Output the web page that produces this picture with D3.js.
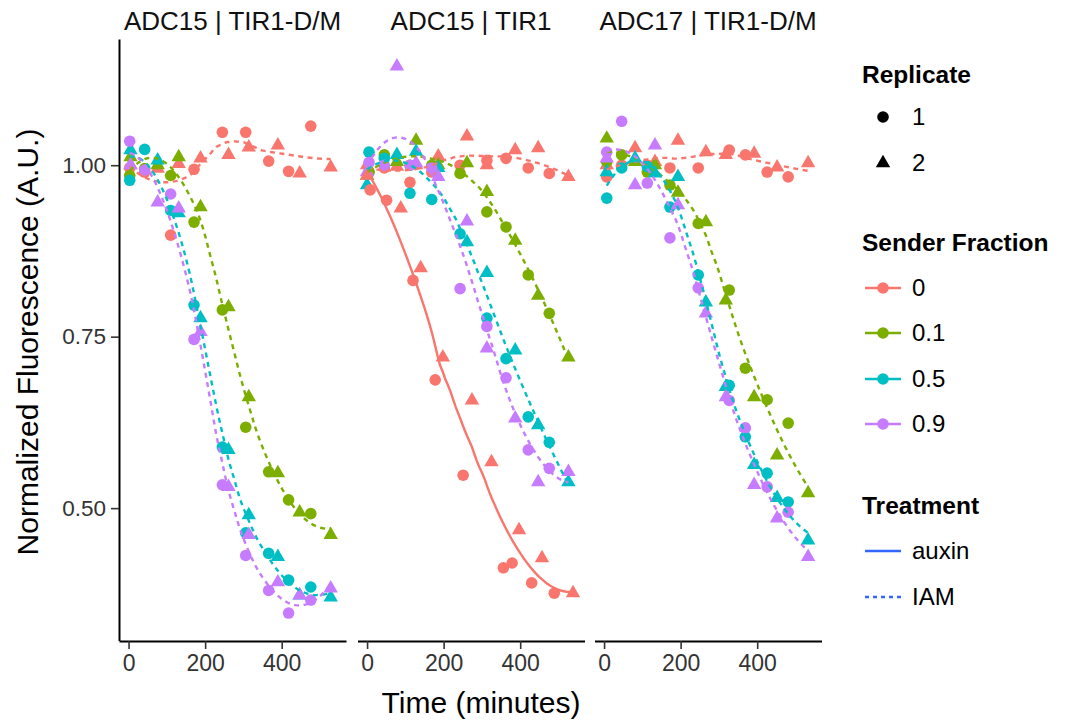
<!DOCTYPE html>
<html><head><meta charset="utf-8">
<script src="https://cdn.jsdelivr.net/npm/d3@7"></script>
<style>body{margin:0;background:#fff}svg{display:block}text{font-family:"Liberation Sans",Arial,Helvetica,sans-serif}</style>
</head><body><svg id="c" width="1069" height="721"></svg>
<script>
// ---------- data ----------
const panelTitles = ["ADC15 | TIR1-D/M", "ADC15 | TIR1", "ADC17 | TIR1-D/M"];
const fractions = ["0", "0.1", "0.5", "0.9"];
const fracColors = ["#F8766D", "#7CAE00", "#00BFC4", "#C77CFF"];
const replicates = ["1", "2"];
const treatments = ["auxin", "IAM"];
const xTicks = [0, 200, 400];
const yTicks = [0.50, 0.75, 1.00];

// time points (minutes) per panel and replicate
const timeP1R1 = [3, 42, 110, 171, 245, 306, 366, 418, 476];
const timeP1R2 = [5, 76, 131, 188, 261, 314, 390, 447, 528];
const timeP2R1 = [5, 45, 112, 169, 243, 313, 363, 421, 476];
const timeP2R2 = [0, 78, 128, 186, 261, 313, 387, 447, 526];
const timeP3R1 = [7, 46, 113, 172, 246, 327, 369, 426, 481];
const timeP3R2 = [7, 81, 133, 193, 266, 318, 392, 452, 533];
const timeAuxR1 = [8, 51, 120, 178, 251, 356, 379, 430, 489];
const timeAuxR2 = [0, 88, 140, 198, 274, 325, 397, 457, 538];

// Panel 1: ADC15 | TIR1-D/M (IAM)
const p1_f0_r1 = [0.996, 0.990, 0.898, 0.994, 1.048, 1.048, 1.006, 0.991, 1.057];
const p1_f0_r2 = [1.000, 0.995, 1.002, 1.010, 1.015, 1.026, 1.029, 0.988, 0.997];
const p1_f1_r1 = [0.985, 0.995, 0.985, 0.917, 0.789, 0.618, 0.553, 0.512, 0.492];
const p1_f1_r2 = [1.012, 1.000, 1.012, 0.939, 0.793, 0.662, 0.551, 0.494, 0.461];
const p1_f5_r1 = [0.978, 1.023, 0.934, 0.796, 0.589, 0.464, 0.434, 0.395, 0.385];
const p1_f5_r2 = [1.022, 1.007, 0.930, 0.777, 0.585, 0.490, 0.429, 0.373, 0.370];
const p1_f9_r1 = [1.035, 0.993, 0.958, 0.746, 0.534, 0.431, 0.380, 0.347, 0.366];
const p1_f9_r2 = [1.000, 0.946, 0.937, 0.757, 0.531, 0.461, 0.392, 0.373, 0.383];

// Panel 2: ADC15 | TIR1 (IAM)
const p2_f0_r1 = [0.990, 0.996, 0.975, 0.990, 1.000, 1.007, 1.010, 0.996, 0.988];
const p2_f0_r2 = [1.000, 0.998, 1.000, 1.013, 1.042, 1.000, 1.022, 1.025, 0.983];
const p2_f1_r1 = [0.990, 1.015, 1.000, 1.000, 0.988, 0.932, 0.910, 0.840, 0.784];
const p2_f1_r2 = [0.985, 1.005, 1.036, 1.000, 1.003, 0.961, 0.890, 0.810, 0.720];
const p2_f5_r1 = [1.019, 1.010, 0.959, 0.950, 0.900, 0.777, 0.718, 0.633, 0.596];
const p2_f5_r2 = [0.971, 1.015, 1.020, 0.996, 0.888, 0.843, 0.730, 0.621, 0.538];
const p2_f9_r1 = [1.004, 1.000, 1.000, 0.996, 0.820, 0.765, 0.690, 0.585, 0.558];
const p2_f9_r2 = [0.990, 1.144, 1.003, 0.983, 0.918, 0.733, 0.631, 0.538, 0.553];
// Panel 2: ADC15 | TIR1 (auxin, sender fraction 0)
const p2aux_f0_r1 = [0.964, 0.949, 0.832, 0.687, 0.548, 0.413, 0.420, 0.391, 0.376];
const p2aux_f0_r2 = [0.985, 0.937, 0.850, 0.720, 0.657, 0.567, 0.468, 0.427, 0.376];

// Panel 3: ADC17 | TIR1-D/M (IAM)
const p3_f0_r1 = [0.983, 1.000, 1.000, 0.996, 0.996, 1.022, 1.015, 0.990, 0.983];
const p3_f0_r2 = [1.000, 1.025, 1.005, 1.036, 1.019, 1.015, 1.017, 0.997, 1.003];
const p3_f1_r1 = [1.005, 1.015, 0.990, 0.971, 0.915, 0.818, 0.704, 0.658, 0.624];
const p3_f1_r2 = [1.039, 1.005, 1.000, 0.960, 0.917, 0.803, 0.662, 0.577, 0.522];
const p3_f5_r1 = [0.952, 0.996, 0.998, 0.939, 0.840, 0.679, 0.604, 0.551, 0.509];
const p3_f5_r2 = [0.990, 1.010, 0.988, 0.983, 0.800, 0.677, 0.563, 0.515, 0.453];
const p3_f9_r1 = [1.019, 1.064, 0.974, 0.894, 0.821, 0.657, 0.617, 0.531, 0.494];
const p3_f9_r2 = [1.010, 0.971, 1.029, 0.942, 0.784, 0.662, 0.534, 0.485, 0.429];

// ---------- assemble groups ----------
const groups = [];
function addGroup(panel, frac, treat, t1, v1, t2, v2) {
  groups.push({panel, frac, treat, pts: [
    ...t1.map((t, i) => ({t, v: v1[i], rep: 0})),
    ...t2.map((t, i) => ({t, v: v2[i], rep: 1}))]});
}
[[p1_f0_r1,p1_f0_r2],[p1_f1_r1,p1_f1_r2],[p1_f5_r1,p1_f5_r2],[p1_f9_r1,p1_f9_r2]]
  .forEach((s, f) => addGroup(0, f, 1, timeP1R1, s[0], timeP1R2, s[1]));
[[p2_f0_r1,p2_f0_r2],[p2_f1_r1,p2_f1_r2],[p2_f5_r1,p2_f5_r2],[p2_f9_r1,p2_f9_r2]]
  .forEach((s, f) => addGroup(1, f, 1, timeP2R1, s[0], timeP2R2, s[1]));
addGroup(1, 0, 0, timeAuxR1, p2aux_f0_r1, timeAuxR2, p2aux_f0_r2);
[[p3_f0_r1,p3_f0_r2],[p3_f1_r1,p3_f1_r2],[p3_f5_r1,p3_f5_r2],[p3_f9_r1,p3_f9_r2]]
  .forEach((s, f) => addGroup(2, f, 1, timeP3R1, s[0], timeP3R2, s[1]));

// loess smoother (degree 2, span 0.75, tricube) as geom_smooth does
function loess(pts, span = 0.75, nOut = 80) {
  const xs = pts.map(p => p.t), ys = pts.map(p => p.v);
  const n = xs.length, q = Math.floor(n * span);
  const xmin = d3.min(xs), xmax = d3.max(xs), out = [];
  for (let k = 0; k < nOut; k++) {
    const x0 = xmin + (xmax - xmin) * k / (nOut - 1);
    const d = xs.map(x => Math.abs(x - x0));
    let h = d.slice().sort((a, b) => a - b)[q - 1] * 1.000001 || 1e-6;
    const A = [[0,0,0],[0,0,0],[0,0,0]], b = [0,0,0];
    for (let i = 0; i < n; i++) {
      const u = d[i] / h; if (u >= 1) continue;
      const w = Math.pow(1 - u*u*u, 3), tt = (xs[i] - x0) / 100, B = [1, tt, tt*tt];
      for (let r = 0; r < 3; r++) { b[r] += w * B[r] * ys[i]; for (let c = 0; c < 3; c++) A[r][c] += w * B[r] * B[c]; }
    }
    const M = A.map((r, i) => [...r, b[i]]);
    for (let c = 0; c < 3; c++) {
      let p = c; for (let r = c+1; r < 3; r++) if (Math.abs(M[r][c]) > Math.abs(M[p][c])) p = r;
      [M[c], M[p]] = [M[p], M[c]];
      for (let r = c+1; r < 3; r++) { const f = M[r][c] / M[c][c]; for (let j = c; j < 4; j++) M[r][j] -= f * M[c][j]; }
    }
    const s = [0,0,0];
    for (let r = 2; r >= 0; r--) { let acc = M[r][3]; for (let j = r+1; j < 3; j++) acc -= M[r][j]*s[j]; s[r] = acc / M[r][r]; }
    out.push([x0, s[0]]);
  }
  return out;
}

// ---------- layout ----------
const svg = d3.select("#c");
const panelX0 = [119, 357.5, 594.5], panelW = 227;
const yBot = 641;
const y = d3.scaleLinear().domain([0.307, 1.184]).range([640.5, 39]);
const xs = panelX0.map(x0 => d3.scaleLinear().domain([-25, 568]).range([x0, x0 + panelW]));
const tickCol = "#333333";

panelX0.forEach((x0, p) => {
  const x = xs[p];
  svg.append("text").attr("x", x0 + panelW/2).attr("y", 30).attr("text-anchor", "middle")
    .attr("font-size", 26).attr("fill", "#111").text(panelTitles[p]);
  const ax = svg.append("g").attr("transform", `translate(0,${yBot})`)
    .call(d3.axisBottom(x).tickValues(xTicks).tickSize(8).tickSizeOuter(0).tickPadding(6));
  ax.select(".domain").attr("stroke", "#000").attr("stroke-width", 2);
  ax.selectAll(".tick line").attr("stroke", "#333").attr("stroke-width", 1.6);
  ax.selectAll(".tick text").attr("font-size", 23).attr("fill", tickCol)
    .attr("font-family", '"Liberation Sans",Arial,sans-serif');
});

const ay = svg.append("g").attr("transform", `translate(${panelX0[0]},0)`)
  .call(d3.axisLeft(y).tickValues(yTicks).tickFormat(d3.format(".2f")).tickSize(8).tickSizeOuter(0).tickPadding(5));
ay.select(".domain").attr("stroke", "#000").attr("stroke-width", 2);
ay.selectAll(".tick line").attr("stroke", "#333").attr("stroke-width", 1.6);
ay.selectAll(".tick text").attr("font-size", 22.5).attr("fill", tickCol)
  .attr("font-family", '"Liberation Sans",Arial,sans-serif');

// points
const circleR = 5.8;
const triSym = d3.symbol().type(d3.symbolTriangle).size(90);
groups.forEach(g => {
  const x = xs[g.panel], col = fracColors[g.frac];
  const G = svg.append("g");
  g.pts.forEach(pt => {
    if (pt.rep === 0) G.append("circle").attr("cx", x(pt.t)).attr("cy", y(pt.v)).attr("r", circleR).attr("fill", col);
    else G.append("path").attr("d", triSym()).attr("transform", `translate(${x(pt.t)},${y(pt.v)})`).attr("fill", col);
  });
});

// smooth lines
groups.forEach(g => {
  const x = xs[g.panel];
  const line = d3.line().x(d => x(d[0])).y(d => y(d[1])).curve(d3.curveLinear);
  svg.append("path").attr("d", line(loess(g.pts)))
    .attr("fill", "none").attr("stroke", fracColors[g.frac]).attr("stroke-width", 2.4)
    .attr("stroke-dasharray", g.treat === 1 ? "5,4.5" : null);
});

// axis titles
svg.append("text").attr("transform", "translate(38,342) rotate(-90)").attr("text-anchor", "middle")
  .attr("font-size", 30).attr("fill", "#000").text("Normalized Fluorescence (A.U.)");
svg.append("text").attr("x", 481).attr("y", 713).attr("text-anchor", "middle")
  .attr("font-size", 30).attr("fill", "#000").text("Time (minutes)");

// ---------- legend ----------
const L = svg.append("g");
const lx = 862, keyX = 883, labX = 912;
function title(t, yy) { L.append("text").attr("x", lx).attr("y", yy).attr("font-size", 24.5).attr("font-weight", "bold").attr("fill", "#000").text(t); }
function label(t, yy) { L.append("text").attr("x", labX).attr("y", yy + 8).attr("font-size", 24).attr("fill", "#000").text(t); }
title("Replicate", 83);
const repY = [117, 163];
L.append("circle").attr("cx", keyX).attr("cy", repY[0]).attr("r", circleR).attr("fill", "#000");
L.append("path").attr("d", triSym()).attr("transform", `translate(${keyX},${repY[1]})`).attr("fill", "#000");
replicates.forEach((r, i) => label(r, repY[i]));

title("Sender Fraction", 251);
const fracY = [288, 333, 379, 424];
fractions.forEach((f, i) => {
  L.append("line").attr("x1", 865).attr("x2", 901).attr("y1", fracY[i]).attr("y2", fracY[i])
    .attr("stroke", fracColors[i]).attr("stroke-width", 2.4);
  L.append("circle").attr("cx", keyX).attr("cy", fracY[i]).attr("r", circleR).attr("fill", fracColors[i]);
  label(f, fracY[i]);
});

title("Treatment", 514);
const trY = [551, 597];
treatments.forEach((t, i) => {
  L.append("line").attr("x1", 865).attr("x2", 901).attr("y1", trY[i]).attr("y2", trY[i])
    .attr("stroke", "#3366FF").attr("stroke-width", 2.4).attr("stroke-dasharray", i === 1 ? "4,4" : null);
  label(t, trY[i]);
});
</script></body></html>
